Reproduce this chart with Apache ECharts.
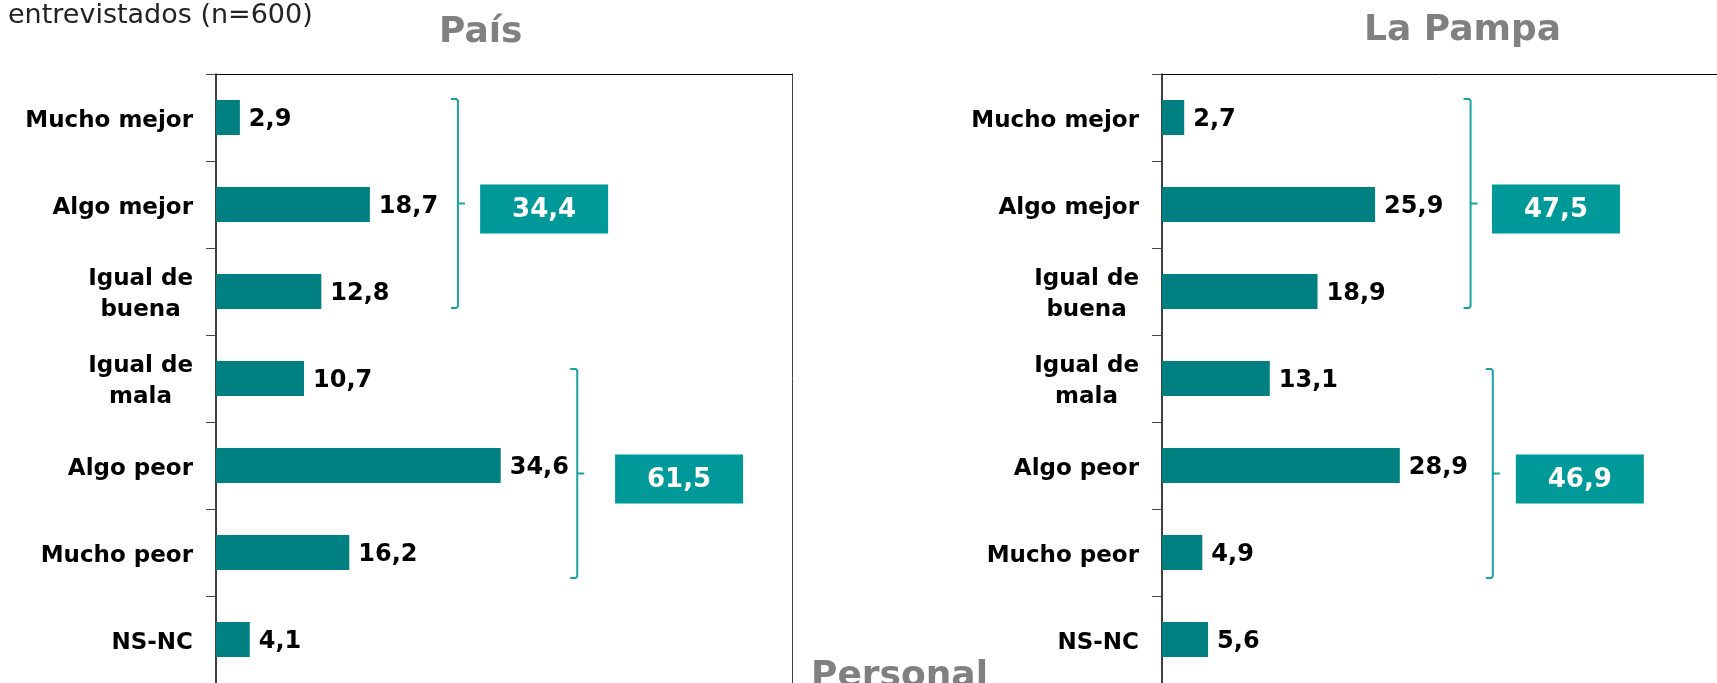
<!DOCTYPE html>
<html><head><meta charset="utf-8">
<script src="https://cdn.jsdelivr.net/npm/echarts@6/dist/echarts.min.js"></script>
<style>html,body{margin:0;padding:0;background:#fff}#c{width:1717px;height:683px}</style>
</head><body><div id="c"></div>
<script>
// ---- data ----
const categories = ['Mucho mejor', 'Algo mejor', 'Igual de\nbuena', 'Igual de\nmala', 'Algo peor', 'Mucho peor', 'NS-NC'];
const paisValues = [2.9, 18.7, 12.8, 10.7, 34.6, 16.2, 4.1];
const pampaValues = [2.7, 25.9, 18.9, 13.1, 28.9, 4.9, 5.6];
const groupStart = [0, 3];
const groupEnd = [2, 5];
const paisTotals = [34.4, 61.5];
const pampaTotals = [47.5, 46.9];
const panelTitles = ['País', 'La Pampa'];
const subtitleText = 'entrevistados (n=600)';
const bottomTitle = 'Personal';

// ---- layout / style ----
const W = 1717;
const FONT = 'DejaVu Sans';
const BAR = '#008080', BOX = '#009999', BRACKET = '#1aa1a1', GRAY = '#808080';
const fmt = v => v.toFixed(1).replace('.', ',');
const LABEL_SIZE = 23;
const meas = document.createElement('canvas').getContext('2d');
meas.font = 'bold ' + LABEL_SIZE + 'px "' + FONT + '"';
let maxLine = 0;
categories.forEach(c => { if (c.indexOf('\n') >= 0) c.split('\n').forEach(l => { maxLine = Math.max(maxLine, meas.measureText(l).width); }); });

const PLOT_W = 576, AX_MAX = 70;          // 576 px for 0..70
const grids = [
  { left: 216, top: 74, width: PLOT_W, height: 610 },
  { left: 1162, top: 74, width: W - 1162, height: 610 }   // right panel runs past the page edge
];
const axisMax = [AX_MAX, AX_MAX * (W - 1162) / PLOT_W];

const layouts = [
  { bracketX: [29.4, 43.9], boxX: [32.1, 48.5], dy: [-1, 8] },
  { bracketX: [37.5, 40.2], boxX: [40.1, 43.0], dy: [-1, 8] }
];

function bracketRenderer(layout) {
  return function (params, api) {
    const i = params.dataIndex;
    const s = api.value(0), e = api.value(1), tot = api.value(2);
    const band = api.size([0, 1])[1];
    const half = band * 0.2;
    const dy = layout.dy[i];
    const yTop = api.coord([0, s])[1] - half + dy;
    const yBot = api.coord([0, e])[1] + half + dy;
    const yMid = (yTop + yBot) / 2;
    const bx = api.coord([layout.bracketX[i], s])[0];
    const boxL = api.coord([layout.boxX[i], s])[0];
    const cy = yMid + 5.5;
    return {
      type: 'group', children: [
        { type: 'polyline', shape: { points: [[bx - 7, yTop], [bx - 1.5, yTop], [bx, yTop + 1.5], [bx, yBot - 1.5], [bx - 1.5, yBot], [bx - 7, yBot]] }, style: { stroke: BRACKET, lineWidth: 2, fill: null } },
        { type: 'line', shape: { x1: bx, y1: yMid, x2: bx + 7, y2: yMid }, style: { stroke: BRACKET, lineWidth: 2 } },
        { type: 'rect', shape: { x: boxL, y: cy - 24.5, width: 128, height: 49 }, style: { fill: BOX } },
        { type: 'text', x: boxL + 64, y: cy + 1.5, style: { text: fmt(tot), fill: '#fff', fontFamily: FONT, fontWeight: 'bold', fontSize: 26, align: 'center', verticalAlign: 'middle' } }
      ]
    };
  };
}

function catAxis(gridIndex) {
  return {
    type: 'category', gridIndex, data: categories, inverse: true,
    axisLine: { show: true, onZero: false, lineStyle: { color: '#000', width: 1.5 } },
    axisTick: { show: true, length: 10, lineStyle: { color: '#444' } },
    axisLabel: {
      margin: 23, color: '#000', fontFamily: FONT, fontWeight: 'bold', fontSize: LABEL_SIZE, lineHeight: 31,
      padding: [7, 0, 0, 0],
      formatter: v => v.indexOf('\n') < 0 ? v : v.split('\n').map(l => '{c|' + l + '}').join('\n'),
      rich: { c: { width: maxLine, align: 'center', color: '#000', fontFamily: FONT, fontWeight: 'bold', fontSize: LABEL_SIZE, lineHeight: 31 } }
    },
    splitLine: { show: false }
  };
}
function valAxis(gridIndex) {
  return {
    type: 'value', gridIndex, min: 0, max: axisMax[gridIndex], position: 'top',
    axisLine: { show: true, onZero: false, lineStyle: { color: '#000', width: 1 } },
    axisTick: { show: false }, axisLabel: { show: false }, splitLine: { show: false }
  };
}
function barSeries(idx, values) {
  return {
    type: 'bar', xAxisIndex: idx, yAxisIndex: idx === 0 ? 0 : 2, data: values, barWidth: 35,
    itemStyle: { color: BAR }, silent: true,
    label: { show: true, position: 'right', distance: 9, offset: [0, 2], color: '#000', fontFamily: FONT, fontWeight: 'bold', fontSize: 24, formatter: p => fmt(p.value) }
  };
}
function bracketSeries(idx, totals) {
  return {
    type: 'custom', xAxisIndex: idx, yAxisIndex: idx === 0 ? 0 : 2, silent: true,
    encode: { x: 2, y: 0 },
    data: groupStart.map((s, i) => [s, groupEnd[i], totals[i]]),
    renderItem: bracketRenderer(layouts[idx])
  };
}

const chart = echarts.init(document.getElementById('c'));
chart.setOption({
  animation: false,
  textStyle: { fontFamily: FONT },
  title: [
    { text: subtitleText, left: 8, top: 2, padding: 0, textStyle: { fontFamily: FONT, fontWeight: 'normal', fontSize: 27, color: '#222' } },
    { text: panelTitles[0], left: 439, top: 15, padding: 0, textStyle: { fontFamily: FONT, fontWeight: 'bold', fontSize: 36, color: GRAY } },
    { text: panelTitles[1], left: 1364, top: 13, padding: 0, textStyle: { fontFamily: FONT, fontWeight: 'bold', fontSize: 36, color: GRAY } },
    { text: bottomTitle, left: 811, top: 659, padding: 0, textStyle: { fontFamily: FONT, fontWeight: 'bold', fontSize: 36, color: GRAY } }
  ],
  grid: grids.map(g => Object.assign({ containLabel: false }, g)),
  xAxis: [valAxis(0), valAxis(1)],
  yAxis: [
    catAxis(0),
    { type: 'category', gridIndex: 0, data: categories, inverse: true, position: 'right',
      axisLine: { show: true, onZero: false, lineStyle: { color: '#444', width: 1 } },
      axisTick: { show: false }, axisLabel: { show: false }, splitLine: { show: false } },
    catAxis(1)
  ],
  series: [
    barSeries(0, paisValues),
    barSeries(1, pampaValues),
    bracketSeries(0, paisTotals),
    bracketSeries(1, pampaTotals)
  ]
});
</script></body></html>
